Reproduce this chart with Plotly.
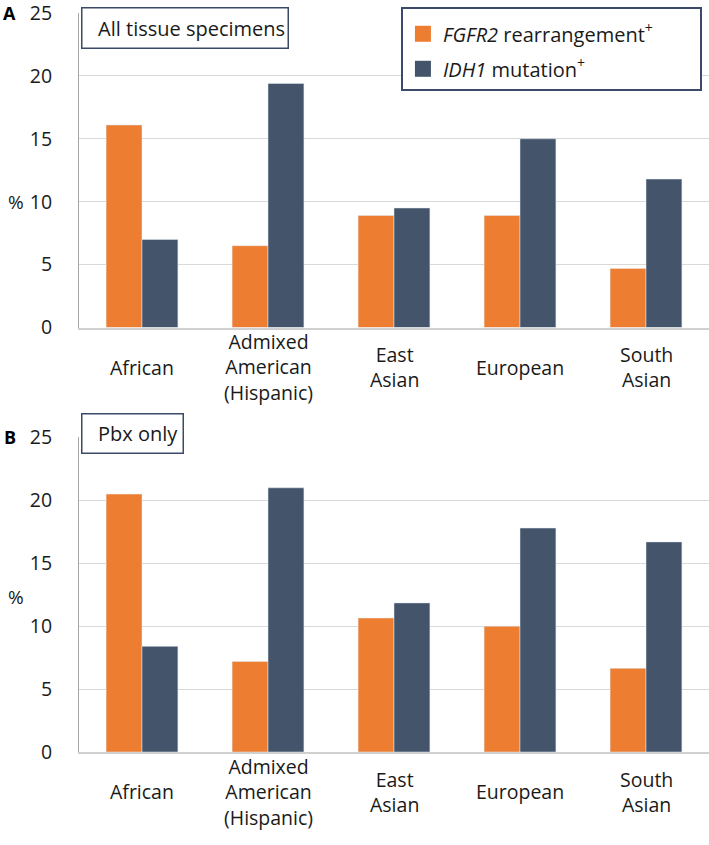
import plotly.graph_objects as go
from plotly.subplots import make_subplots

# Ancestry groups (x categories)
groups = ["African", "Admixed American (Hispanic)", "East Asian", "European", "South Asian"]
group_labels = ["African", "Admixed<br>American<br>(Hispanic)", "East<br>Asian", "European", "South<br>Asian"]

# Panel A: all tissue specimens (%)
fgfr2_all = [16.1, 6.5, 8.9, 8.9, 4.7]
idh1_all = [7.0, 19.4, 9.5, 15.0, 11.8]

# Panel B: Pbx only (%)
fgfr2_pbx = [20.5, 7.2, 10.65, 10.0, 6.65]
idh1_pbx = [8.4, 21.0, 11.85, 17.8, 16.7]

y_ticks = [0, 5, 10, 15, 20, 25]

ORANGE = "#ED7D31"
NAVY = "#44546A"
BOX = "#3B4A6B"
FONT = "Open Sans"
TXT = "#1a1a1a"

fig = make_subplots(rows=2, cols=1, vertical_spacing=0.1488)

for row, (f_vals, i_vals) in enumerate([(fgfr2_all, idh1_all), (fgfr2_pbx, idh1_pbx)], start=1):
    fig.add_trace(go.Bar(x=groups, y=f_vals, marker_color=ORANGE, showlegend=False), row=row, col=1)
    fig.add_trace(go.Bar(x=groups, y=i_vals, marker_color=NAVY, showlegend=False), row=row, col=1)

# legend entries (square swatches)
pad = "\u00a0" * 8
fig.add_trace(go.Scatter(x=[None], y=[None], mode="markers",
                         name="<i>FGFR2</i> rearrangement<sup>+</sup>" + pad,
                         marker=dict(symbol="square", size=20, color=ORANGE), legendgroup="a"))
fig.add_trace(go.Scatter(x=[None], y=[None], mode="markers",
                         name="<i>IDH1</i> mutation<sup>+</sup>",
                         marker=dict(symbol="square", size=20, color=NAVY), legendgroup="b"))

fig.update_xaxes(showticklabels=False, showgrid=False, showline=True, linecolor="#d0d0d0",
                 linewidth=2, ticks="", fixedrange=True)
fig.update_yaxes(range=[0, 25], tickvals=y_ticks, showgrid=True, gridcolor="#d9d9d9", gridwidth=1,
                 showline=True, linecolor="#a6a6a6", linewidth=1, zeroline=False, ticks="",
                 ticklabelstandoff=22, ticklabeloverflow="allow",
                 tickfont=dict(size=19.5, color=TXT, family=FONT))

annotations = []
for xr, yr in [("x", "y domain"), ("x2", "y2 domain")]:
    for g, lab in zip(groups, group_labels):
        annotations.append(dict(x=g, y=-0.127, xref=xr, yref=yr, text=lab, showarrow=False,
                                yanchor="middle", font=dict(size=19.5, color=TXT, family=FONT)))

# "%" axis labels
annotations.append(dict(x=-0.1, y=10 / 25, xref="paper", yref="y domain", text="%", showarrow=False,
                        xanchor="center", yanchor="middle", font=dict(size=19, color=TXT, family=FONT)))
annotations.append(dict(x=-0.1, y=12.3 / 25, xref="paper", yref="y2 domain", text="%", showarrow=False,
                        xanchor="center", yanchor="middle", font=dict(size=19, color=TXT, family=FONT)))

# panel letters
annotations.append(dict(x=-0.11, y=1, xref="paper", yref="y domain", text="<b>A</b>", showarrow=False,
                        xanchor="center", yanchor="middle", font=dict(size=18, color="#000", family=FONT)))
annotations.append(dict(x=-0.11, y=1, xref="paper", yref="y2 domain", text="<b>B</b>", showarrow=False,
                        xanchor="center", yanchor="middle", font=dict(size=18, color="#000", family=FONT)))

# panel title boxes
annotations.append(dict(x=0.003, y=1.019, xref="paper", yref="y domain", xanchor="left", yanchor="top",
                        text="\u00a0\u00a0\u00a0All tissue specimens", showarrow=False, align="left",
                        width=205, height=39, borderpad=0, borderwidth=1.5, bordercolor=BOX,
                        bgcolor="white", font=dict(size=20, color=TXT, family=FONT)))
annotations.append(dict(x=0.003, y=1.079, xref="paper", yref="y2 domain", xanchor="left", yanchor="top",
                        text="\u00a0\u00a0\u00a0Pbx only", showarrow=False, align="left",
                        width=100, height=38, borderpad=0, borderwidth=1.5, bordercolor=BOX,
                        bgcolor="white", font=dict(size=20, color=TXT, family=FONT)))

fig.update_layout(
    width=709, height=845,
    margin=dict(l=79, r=0, t=13, b=93),
    paper_bgcolor="white", plot_bgcolor="white",
    barmode="group", bargap=0.43, bargroupgap=0,
    font=dict(family=FONT, size=18, color=TXT),
    annotations=annotations,
    showlegend=True,
    legend=dict(x=0.511, y=1.008, xanchor="left", yanchor="top", bgcolor="white",
                bordercolor=BOX, borderwidth=2, font=dict(size=20, family=FONT, color=TXT),
                itemsizing="trace", tracegroupgap=6,
                title=dict(text="\u00a0", font=dict(size=4))),
)

fig.write_html("out.html", config={"displayModeBar": False},
               post_script="document.body.style.margin='0';")
